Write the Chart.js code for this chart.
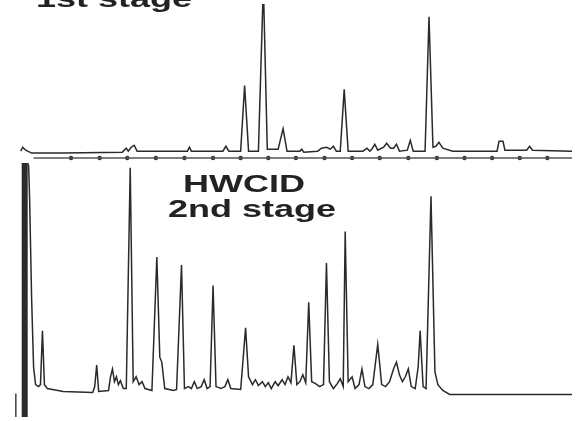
<!DOCTYPE html>
<html>
<head>
<meta charset="utf-8">
<script src="https://cdn.jsdelivr.net/npm/chart.js@4.4.1/dist/chart.umd.min.js"></script>
<style>
  html, body { margin: 0; padding: 0; background: #fff; }
  #wrap { position: relative; width: 576px; height: 421px; }
</style>
</head>
<body>
<div id="wrap"><canvas id="c" width="576" height="421"></canvas></div>
<script>
// ---- First stage trace (retention position, detector signal) ----
const firstTime = [17,19,22,28,60,120,124,126,129,132,135,186,188,190,222,225,228,240,244,248,258,263,267,278,283,287,300,302,304,318,322,327,331,334,337,341,345,349,364,368,371,373,376,379,385,388,392,395,398,401,409,412,415,427,431,435,438,441,445,455,500,502,506,508,530,533,536,576];
const firstSignal = [0,4,1,-2,-2,-1,3,0,4,6,0,0,4,0,0,5,0,0,67,0,0,170,2,2,23,0,0,2,-1,0,3,4,2,5,0,0,63,0,0,3,0,2,7,1,4,8,3,3,7,0,1,11,0,0,137,4,5,9,3,0,0,10,10,1,1,5,1,0];

// time-marker axis under the first stage trace
const markerTime = [68,97,125,154,183,212,240,268,296,325,353,381,410,439,467,495,523,551];
const markerLineStart = 30, markerLineEnd = 576, markerLevel = -7;

// ---- Second stage trace ----
const secondTime = [24,25,26,28,30,32,35,37,39,41,44,60,90,92,94,96,106,108,110,112,114,116,118,121,124,128,131,134,137,140,143,150,155,158,160,163,172,175,180,183,187,190,193,196,200,203,206,209,212,215,220,224,227,230,240,245,248,252,255,258,262,265,268,271,275,278,282,285,288,291,294,297,300,303,306,309,312,316,320,324,327,330,334,338,341,344,346,349,353,356,360,363,366,370,374,379,383,387,391,395,398,401,404,407,410,413,417,420,422,425,428,433,437,440,445,452,576];
const secondSignal = [233,230,195,95,25,7,5,7,62,7,3,0,-1,5,27,0,1,15,23,10,15,7,11,3,3,228,10,15,7,10,3,1,137,35,30,3,1,2,129,3,5,3,10,3,5,12,3,5,108,5,3,5,12,3,2,65,15,7,12,6,10,5,9,3,10,6,12,7,15,9,47,7,10,17,9,91,10,8,5,7,131,10,3,8,13,5,163,10,15,3,7,23,5,3,7,48,7,5,10,23,30,17,10,15,23,5,3,25,62,5,3,199,20,7,1,-3,-3];

// injection / solvent front
const solventTime = [21,21];
const solventSignal = [-26,233];
// left axis stub
const stubTime = [12,12];
const stubSignal = [-2,-26];

const labels = [
  {text: '1st stage', cx: 114, base: 7},
  {text: 'HWCID', cx: 244, base: 192},
  {text: '2nd stage', cx: 252, base: 217}
];

function pts(xs, ys) { return xs.map((x, i) => ({x: x, y: ys[i]})); }

const textPlugin = {
  id: 'stageText',
  afterDraw(chart) {
    const ctx = chart.ctx;
    ctx.save();
    ctx.fillStyle = '#222';
    ctx.font = 'bold 24px "Liberation Sans", Arial, sans-serif';
    ctx.textAlign = 'center';
    ctx.textBaseline = 'alphabetic';
    labels.forEach(l => {
      ctx.save();
      ctx.translate(l.cx, l.base);
      ctx.scale(1.5, 1);
      ctx.fillText(l.text, 0, 0);
      ctx.restore();
    });
    ctx.restore();
  }
};

new Chart(document.getElementById('c'), {
  type: 'scatter',
  data: {
    datasets: [
      { data: pts(firstTime, firstSignal), yAxisID: 'y', showLine: true, borderColor: '#2a2a2a', borderWidth: 1.5, pointRadius: 0, tension: 0 },
      { data: pts([markerLineStart, markerLineEnd], [markerLevel, markerLevel]), yAxisID: 'y', showLine: true, borderColor: '#555', borderWidth: 1.5, pointRadius: 0 },
      { data: markerTime.map(x => ({x: x, y: markerLevel})), yAxisID: 'y', showLine: false, pointRadius: 2.2, pointBackgroundColor: '#333', pointBorderWidth: 0 },
      { data: pts(secondTime, secondSignal), yAxisID: 'y2', showLine: true, borderColor: '#2a2a2a', borderWidth: 1.5, pointRadius: 0, tension: 0 },
      { data: pts(solventTime, solventSignal), yAxisID: 'y2', showLine: true, borderColor: '#2b2b2b', borderWidth: 6, pointRadius: 0 },
      { data: pts(stubTime, stubSignal), yAxisID: 'y2', showLine: true, borderColor: '#444', borderWidth: 1.5, pointRadius: 0 }
    ]
  },
  options: {
    responsive: false,
    animation: false,
    devicePixelRatio: 1,
    layout: { padding: 0 },
    plugins: { legend: { display: false }, tooltip: { enabled: false } },
    scales: {
      x: { type: 'linear', min: 0, max: 576, display: false },
      y: { type: 'linear', min: -271, max: 150, display: false },
      y2: { type: 'linear', min: -26, max: 395, display: false }
    }
  },
  plugins: [textPlugin]
});
</script>
</body>
</html>
